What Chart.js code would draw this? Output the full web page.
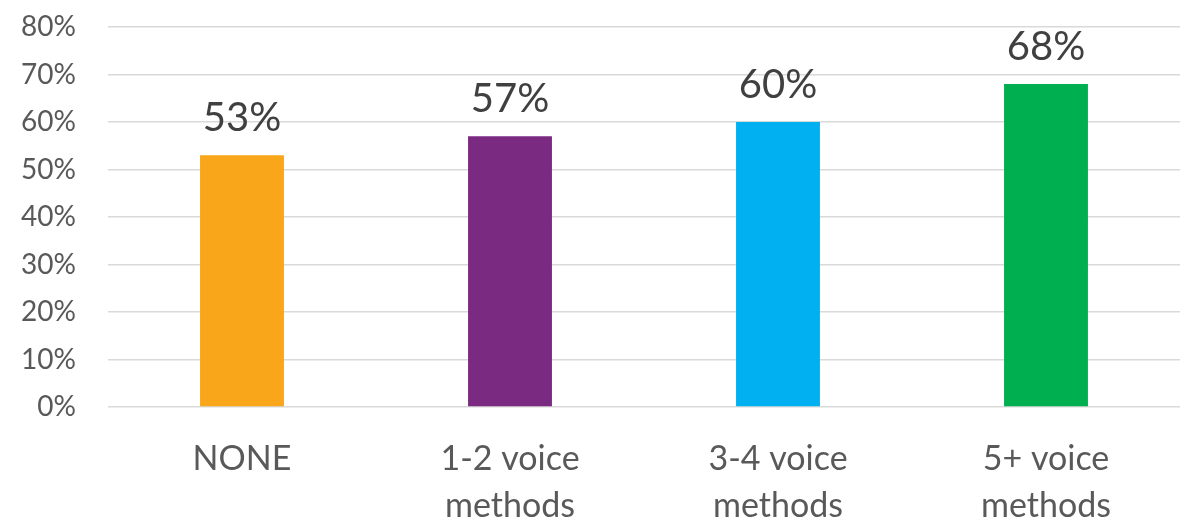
<!DOCTYPE html>
<html>
<head>
<meta charset="utf-8">
<script src="https://cdn.jsdelivr.net/npm/chart.js@4/dist/chart.umd.min.js"></script>
<style>
  html, body { margin: 0; padding: 0; background: #fff; }
  #wrap { width: 1193px; height: 523px; }
</style>
</head>
<body>
<div id="wrap"><canvas id="canvas"></canvas></div>
<script>
const categories = [['NONE'], ['1-2 voice', 'methods'], ['3-4 voice', 'methods'], ['5+ voice', 'methods']];
const values = [53, 57, 60, 68];
const barColors = ['#F9A61A', '#7B2A82', '#00B0F0', '#00AF50'];
const tickValues = [0, 10, 20, 30, 40, 50, 60, 70, 80];

const FONT = 'Lato, "Noto Sans", sans-serif';

// value labels above the bars
const barLabels = {
    id: 'barLabels',
    afterDatasetsDraw(chart) {
        const ctx = chart.ctx;
        const meta = chart.getDatasetMeta(0);
        ctx.save();
        ctx.font = '40px ' + FONT;
        ctx.fillStyle = '#404040';
        ctx.textAlign = 'center';
        ctx.textBaseline = 'middle';
        meta.data.forEach((bar, i) => {
            ctx.fillText(values[i] + '%', bar.x, bar.y - 37);
        });
        ctx.restore();
    }
};

const ctx = document.getElementById('canvas').getContext('2d');
const myChart = new Chart(ctx, {
    type: 'bar',
    data: {
        labels: categories,
        datasets: [{
            data: values,
            backgroundColor: barColors,
            barPercentage: 0.313,
            categoryPercentage: 1
        }]
    },
    options: {
        responsive: true,
        maintainAspectRatio: false,
        animation: false,
        layout: {
            padding: { top: 27, right: 13, left: 0, bottom: 0 }
        },
        plugins: {
            legend: { display: false },
            tooltip: { enabled: false }
        },
        scales: {
            y: {
                min: 0,
                max: 80,
                afterFit(scale) {
                    scale.width = 108;
                    scale.paddingTop = 0;
                    scale.paddingBottom = 0;
                },
                afterBuildTicks(scale) {
                    scale.ticks = tickValues.map(v => ({ value: v }));
                },
                ticks: {
                    padding: 32,
                    color: '#595959',
                    font: { family: FONT, size: 28 },
                    callback: v => v + '%'
                },
                grid: {
                    color: '#D9D9D9',
                    lineWidth: 1.5,
                    drawTicks: false
                },
                border: { display: false }
            },
            x: {
                afterFit(scale) {
                    scale.height = 116;
                    scale.paddingTop = 0;
                },
                ticks: {
                    padding: 21,
                    color: '#595959',
                    font: { family: FONT, size: 34, lineHeight: 1.38 }
                },
                grid: { display: false },
                border: { display: false }
            }
        }
    },
    plugins: [barLabels]
});
</script>
</body>
</html>
